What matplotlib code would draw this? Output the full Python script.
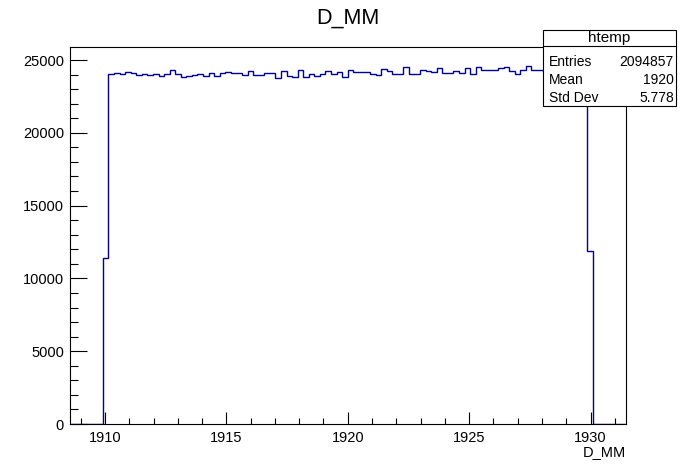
import numpy as np
import matplotlib
matplotlib.use("Agg")
import matplotlib.pyplot as plt
from matplotlib.patches import Rectangle
from matplotlib.lines import Line2D

plt.rcParams['font.family'] = ['Liberation Sans', 'DejaVu Sans']

# Histogram definition
hist_range = (1908.54, 1931.46)
n_bins = 100
first_filled_bin = 6
counts = [
    11380,
    24038, 24086, 24024, 24155, 24086, 23969, 24024, 23969, 24024, 23901,
    24059, 24293, 24059, 23818, 23887, 23949, 24017, 23901, 24086, 23901,
    24086, 24196, 24128, 24128, 23949, 24224, 23949, 23949, 24107, 24128,
    23798, 24224, 23901, 23866, 24279, 23846, 24059, 23921, 24059, 24224,
    24059, 24155, 23811, 24313, 24155, 24155, 24155, 24059, 23969, 24362,
    24265, 24059, 24059, 24499, 24059, 24017, 24334, 24265, 24155, 24472,
    24086, 24086, 24224, 24086, 24430, 24017, 24499, 24293, 24293, 24293,
    24430, 24499, 24224, 24017, 24293, 24567, 24334, 24293,
    24200, 24350, 24150, 24660, 24400, 24250, 24180, 24320,
    11882,
]
title = "D_MM"
x_label = "D_MM"
stats_name = "htemp"
stats_rows = [("Entries", "2094857"), ("Mean", "1920"), ("Std Dev", "5.778")]
x_major = [1910, 1915, 1920, 1925, 1930]
y_major = [0, 5000, 10000, 15000, 20000, 25000]

values = np.zeros(n_bins)
values[first_filled_bin:first_filled_bin + len(counts)] = counts
edges = np.linspace(hist_range[0], hist_range[1], n_bins + 1)

W, H = 696, 472
fig = plt.figure(figsize=(W / 100, H / 100), dpi=100)
ax = fig.add_axes([69.5 / W, 1 - 424 / H, (626 - 69.5) / W, (424 - 47) / H])

ax.stairs(values, edges, color="#000099", linewidth=1.0, baseline=0)
ax.set_xlim(*hist_range)
ax.set_ylim(0, 1.05 * max(counts))

ax.set_xticks(x_major)
ax.set_xticks(np.arange(1909, 1932, 1), minor=True)
ax.set_yticks(y_major)
ax.set_yticks(np.arange(0, 26000, 1000), minor=True)
ax.tick_params(axis='both', which='both', direction='in', top=False, right=False,
               labelsize=10.5, width=0.8, color='black')
ax.tick_params(axis='x', which='major', length=8.5, pad=5)
ax.tick_params(axis='x', which='minor', length=4)
ax.tick_params(axis='y', which='major', length=12, pad=4)
ax.tick_params(axis='y', which='minor', length=6)
for s in ax.spines.values():
    s.set_linewidth(0.8)

fig.text(1 - 70 / W, 1 - 452 / H, x_label, ha='right', va='center', fontsize=10.5)
fig.text(0.5, 1 - 18 / H, title, ha='center', va='center', fontsize=15.5)

# stats box
bx0, bx1, by0, by1 = 542.7, 676, 30, 106
fig.patches.append(Rectangle((bx0 / W, 1 - by1 / H), (bx1 - bx0) / W, (by1 - by0) / H,
                             transform=fig.transFigure, facecolor='white',
                             edgecolor='black', linewidth=0.8, zorder=5))
fig.lines.append(Line2D([bx0 / W, bx1 / W], [1 - 45.7 / H, 1 - 45.7 / H],
                        transform=fig.transFigure, color='black', linewidth=0.8, zorder=6))
fig.text((bx0 + bx1) / 2 / W, 1 - 38.3 / H, stats_name, ha='center', va='center',
         fontsize=11, zorder=7)
row_y = [61.7, 80.5, 98.3]
for (name, val), yy in zip(stats_rows, row_y):
    fig.text(549 / W, 1 - yy / H, name, ha='left', va='center', fontsize=10, zorder=7)
    fig.text(674 / W, 1 - yy / H, val, ha='right', va='center', fontsize=10, zorder=7)

fig.savefig("out.png", dpi=100)
